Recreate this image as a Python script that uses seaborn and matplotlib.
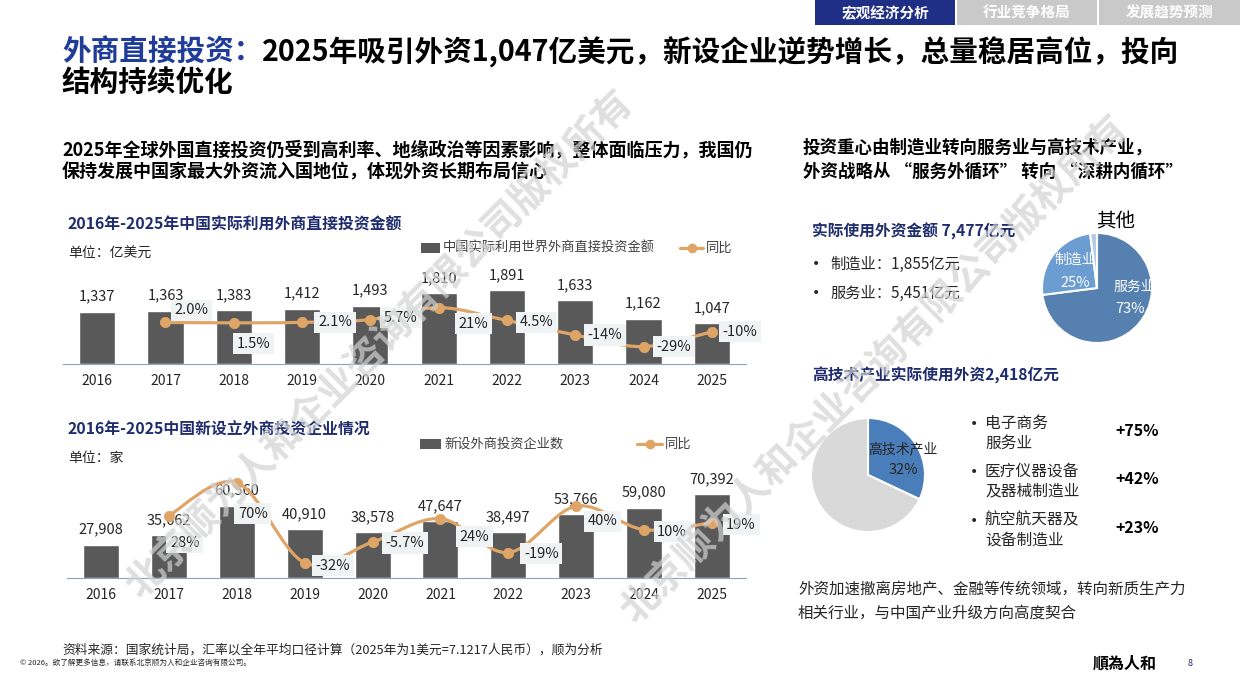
import numpy as np
import matplotlib
matplotlib.use("Agg")
import matplotlib.pyplot as plt
import seaborn as sns
from matplotlib.path import Path
from matplotlib.patches import PathPatch, Rectangle
from matplotlib.lines import Line2D

sns.set_style("white")
plt.rcParams['font.family'] = ['Noto Sans CJK SC', 'DejaVu Sans']

# ---- data ----
years = ['2016', '2017', '2018', '2019', '2020', '2021', '2022', '2023', '2024', '2025']
fdi_amount = [1337, 1363, 1383, 1412, 1493, 1810, 1891, 1633, 1162, 1047]
fdi_yoy = [None, 2.0, 1.5, 2.1, 5.7, 21, 4.5, -14, -29, -10]
new_firms = [27908, 35662, 60560, 40910, 38578, 47647, 38497, 53766, 59080, 70392]
firms_yoy = [None, 28, 70, -32, -5.7, 24, -19, 40, 10, 19]

sector_labels = ['服务业', '制造业', '其他']
sector_share = [73, 25, 2]
hitech_labels = ['高技术产业', '其他']
hitech_share = [32, 68]
hitech_items = ['电子商务\n服务业', '医疗仪器设备\n及器械制造业', '航空航天器及\n设备制造业']
hitech_growth = ['+75%', '+42%', '+23%']

W, H = 1240, 697
BAR = '#595959'
LINE = '#DFA567'
NAVY = '#1F2D6E'
BOXC = '#F0F3F3'
TXT = '#262626'

fig = plt.figure(figsize=(W / 100, H / 100), dpi=100)


def fx(x):
    return x / W


def fy(y):
    return 1 - y / H


def axes_px(x0, y0, x1, y1):
    return fig.add_axes([fx(x0), fy(y1), (x1 - x0) / W, (y1 - y0) / H])


def ftext(x, y, s, **kw):
    kw.setdefault('va', 'center')
    kw.setdefault('color', TXT)
    return fig.text(fx(x), fy(y), s, **kw)


def smooth_path(xs, ys):
    # smooth (Catmull-Rom style) curve through the data points
    pts = np.column_stack([xs, ys]).astype(float)
    verts = [pts[0]]
    codes = [Path.MOVETO]
    for i in range(len(pts) - 1):
        p0 = pts[i - 1] if i > 0 else pts[i]
        p1, p2 = pts[i], pts[i + 1]
        p3 = pts[i + 2] if i + 2 < len(pts) else pts[i + 1]
        verts += [p1 + (p2 - p0) / 6, p2 - (p3 - p1) / 6, p2]
        codes += [Path.CURVE4] * 3
    return Path(verts, codes)


def pct(v):
    return f'{v:.1f}%' if abs(v) < 10 else f'{v:.0f}%'


def combo_chart(box, bars, yoy, bar_top, line_lim, offsets):
    ax = axes_px(*box)
    sns.barplot(x=years, y=bars, color=BAR, width=0.53, saturation=1, ax=ax)
    ax.set_xlim(-0.5, 9.5)
    ax.set_ylim(0, bar_top)
    ax.set_yticks([])
    ax.set_ylabel('')
    for s in ['top', 'right', 'left']:
        ax.spines[s].set_visible(False)
    ax.spines['bottom'].set_color('#8FA2BC')
    ax.set_xticks(np.arange(-0.5, 10, 1), minor=True)
    ax.tick_params(axis='x', which='minor', length=4, color='#8FA2BC', direction='out')
    ax.tick_params(axis='x', which='major', length=0, pad=7, labelsize=10, labelcolor=TXT)
    for i, v in enumerate(bars):
        ax.annotate(f'{v:,}', (i, v), xytext=(0, 15), textcoords='offset pixels',
                    ha='center', va='center', fontsize=10.5, color=TXT)

    ax2 = ax.twinx()
    ax2.set_ylim(*line_lim)
    ax2.set_yticks([])
    for s in ax2.spines.values():
        s.set_visible(False)
    xs = [i for i, v in enumerate(yoy) if v is not None]
    ys = [v for v in yoy if v is not None]
    ax2.add_patch(PathPatch(smooth_path(xs, ys), fill=False, ec=LINE, lw=2.3,
                            capstyle='round', zorder=3))
    sns.scatterplot(x=xs, y=ys, color=LINE, s=55, edgecolor=LINE, zorder=4, ax=ax2)
    for x, y, (dx, dy) in zip(xs, ys, offsets):
        ax2.annotate(pct(y), (x, y), xytext=(dx, -dy), textcoords='offset pixels',
                     ha='center', va='center', fontsize=10.5, color=TXT, zorder=5,
                     bbox=dict(boxstyle='square,pad=0.25', fc=BOXC, ec='none'))
    ax2.set_xlim(-0.5, 9.5)
    return ax, ax2


# ---- header ----
tabs = [('宏观经济分析', 815, 955, '#1F2F86'), ('行业竞争格局', 957, 1097, '#C9C9C9'),
        ('发展趋势预测', 1099, 1240, '#C9C9C9')]
for label, x0, x1, c in tabs:
    fig.add_artist(Rectangle((fx(x0), fy(25)), (x1 - x0) / W, 25 / H,
                             transform=fig.transFigure, fc=c, ec='none'))
    ftext((x0 + x1) / 2, 13, label, ha='center', color='white', fontsize=10.5,
          fontweight='bold')

t1 = ftext(62, 52, '外商直接投资：', fontsize=20.6, fontweight='bold', color='#1F3C99')
fig.canvas.draw()
bb = t1.get_window_extent()
ftext(bb.x1, 52, '2025年吸引外资1,047亿美元，新设企业逆势增长，总量稳居高位，投向',
      fontsize=20.6, fontweight='bold', color='black')
ftext(62, 82, '结构持续优化', fontsize=20.6, fontweight='bold', color='black')

# ---- left text ----
ftext(62, 150, '2025年全球外国直接投资仍受到高利率、地缘政治等因素影响，整体面临压力，我国仍',
      fontsize=13, fontweight='bold', color='black')
ftext(62, 172, '保持发展中国家最大外资流入国地位，体现外资长期布局信心',
      fontsize=13, fontweight='bold', color='black')

ftext(68, 225, '2016年-2025年中国实际利用外商直接投资金额', fontsize=11.4, fontweight='bold', color=NAVY)
ftext(68, 254, '单位：亿美元', fontsize=10)
ftext(68, 430, '2016年-2025中国新设立外商投资企业情况', fontsize=11.4, fontweight='bold', color=NAVY)
ftext(68, 458, '单位：家', fontsize=10)


def legend_px(rx0, rx1, y, label, lx0, lx1):
    fig.add_artist(Rectangle((fx(rx0), fy(y + 5)), (rx1 - rx0) / W, 10 / H,
                             transform=fig.transFigure, fc=BAR, ec='none'))
    ftext(rx1 + 3, y, label, fontsize=9.5, color='#404040')
    fig.add_artist(Line2D([fx(lx0), fx(lx1)], [fy(y), fy(y)], transform=fig.transFigure,
                          color=LINE, lw=2.3))
    fig.add_artist(Line2D([fx((lx0 + lx1) / 2)], [fy(y)], transform=fig.transFigure,
                          color=LINE, marker='o', ms=6, lw=0))
    ftext(lx1 + 3, y, '同比', fontsize=9.5, color='#404040')


legend_px(421, 440, 248, '中国实际利用世界外商直接投资金额', 680, 703)
legend_px(420, 441, 444, '新设外商投资企业数', 637, 662)

top_off = [(26, -12), (20, 21), (33, 0), (30, -2), (35, 16), (30, 2), (30, 0), (30, 0), (28, 0)]
combo_chart((63, 240, 746, 364), fdi_amount, fdi_yoy, 3171, (-51.3, 107.7), top_off)

bot_off = [(16, 27), (16, 31), (28, 3), (32, 1), (34, 18), (33, 1), (26, 15), (28, 2), (29, 2)]
combo_chart((67, 445, 746, 578), new_firms, firms_yoy, 111484, (-51.4, 117.8), bot_off)

# ---- right panel ----
ftext(803, 148, '投资重心由制造业转向服务业与高技术产业，', fontsize=12.6, fontweight='bold', color='black')
ftext(803, 172, '外资战略从 “服务外循环” 转向 “深耕内循环”', fontsize=12.6, fontweight='bold', color='black')

ftext(812, 231, '实际使用外资金额 7,477亿元', fontsize=11.3, fontweight='bold', color=NAVY)
ftext(812, 264, '•', fontsize=10, family='DejaVu Sans')
ftext(830, 264, '制造业：1,855亿元', fontsize=11)
ftext(812, 293, '•', fontsize=10, family='DejaVu Sans')
ftext(830, 293, '服务业：5,451亿元', fontsize=11)

r1 = 55
pa = axes_px(1097 - r1, 288 - r1, 1097 + r1, 288 + r1)
pa.pie(sector_share, colors=['#5680B0', '#6B9CD2', '#B6C9E6'], startangle=90,
       counterclock=False, wedgeprops=dict(ec='white', lw=1.5))
pa.set_xlim(-1, 1)
pa.set_ylim(-1, 1)
pa.set_aspect('equal')
ftext(1116, 222, sector_labels[2], fontsize=14, ha='center', color='black')
ftext(1075, 260, sector_labels[1], fontsize=10, ha='center', color='white')
ftext(1075, 283, f'{sector_share[1]}%', fontsize=10.5, ha='center', color='white')
ftext(1134, 287, sector_labels[0], fontsize=10, ha='center', color='white')
ftext(1130, 309, f'{sector_share[0]}%', fontsize=10.5, ha='center', color='white')

ftext(812, 375, '高技术产业实际使用外资2,418亿元', fontsize=11.3, fontweight='bold', color=NAVY)

r2 = 57
pb = axes_px(868 - r2, 475 - r2, 868 + r2, 475 + r2)
pb.pie(hitech_share, colors=['#4A7EBB', '#D9D9D9'], startangle=90, counterclock=False,
       wedgeprops=dict(ec='white', lw=1.5))
pb.set_xlim(-1, 1)
pb.set_ylim(-1, 1)
pb.set_aspect('equal')
ftext(903, 449, hitech_labels[0], fontsize=10, ha='center')
ftext(903, 470, f'{hitech_share[0]}%', fontsize=10.5, ha='center')

item_y = [433, 481, 530]
for item, g, y in zip(hitech_items, hitech_growth, item_y):
    ftext(970, y - 9, '•', fontsize=10, family='DejaVu Sans')
    ftext(985, y, item, fontsize=11.3, linespacing=1.25)
    ftext(1137, y - 2, g, fontsize=11.5, fontweight='bold', ha='center', color='black')

ftext(798, 589, '外资加速撤离房地产、金融等传统领域，转向新质生产力', fontsize=11.2)
ftext(798, 613, '相关行业，与中国产业升级方向高度契合', fontsize=11.2)

# ---- footer ----
ftext(62, 650, '资料来源：国家统计局，汇率以全年平均口径计算（2025年为1美元=7.1217人民币），顺为分析',
      fontsize=9.2)
ftext(20, 664, '© 2026。欲了解更多信息，请联系北京顺为人和企业咨询有限公司。', fontsize=5.5)
ftext(1093, 664, '順為人和', fontsize=11.5, fontweight='bold', color='black')
ftext(1188, 664, '8', fontsize=6.5, color=NAVY)

# ---- watermark ----
for cx, cy in [(380, 345), (875, 370)]:
    ftext(cx, cy, '北京顺为人和企业咨询有限公司版权所有', fontsize=28, fontweight='bold',
          color='#D2D2D2', alpha=0.7, rotation=45, ha='center', rotation_mode='anchor',
          zorder=10)

fig.savefig('out.png', dpi=100)
